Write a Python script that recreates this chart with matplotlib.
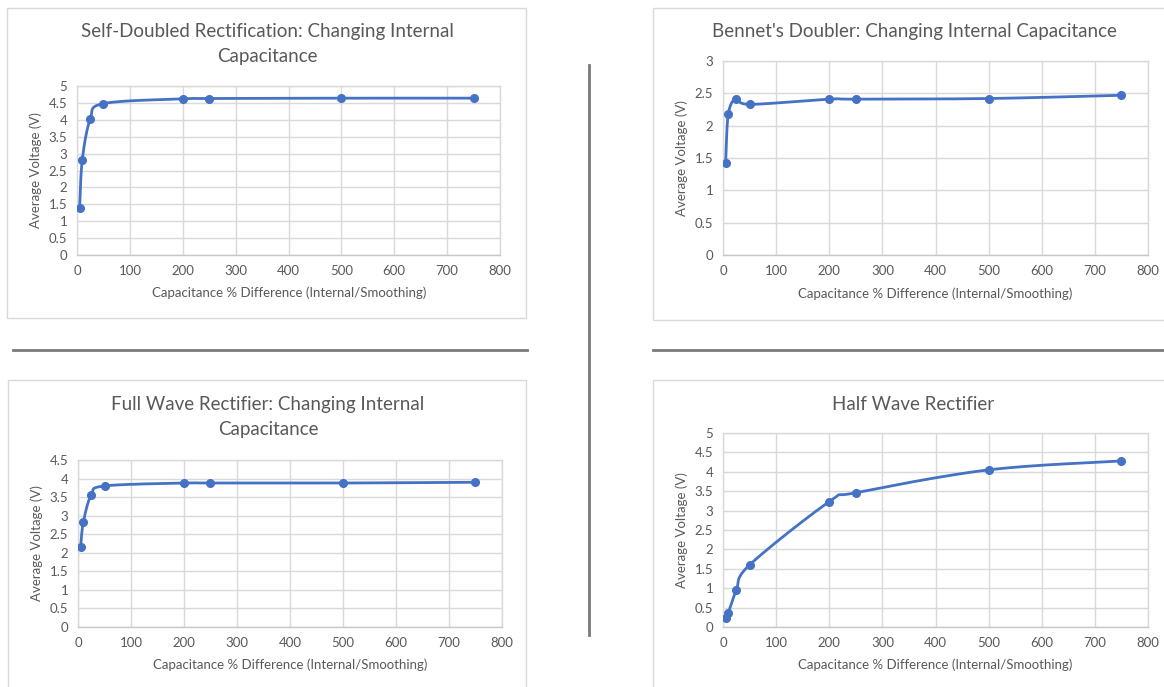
import numpy as np
import matplotlib
matplotlib.use("Agg")
import matplotlib.pyplot as plt
from matplotlib.patches import Rectangle
from matplotlib.lines import Line2D

plt.rcParams['font.family'] = ['Lato', 'DejaVu Sans']

# Capacitance % difference (internal / smoothing)
cap_diff = [5, 10, 25, 50, 200, 250, 500, 750]

# Average output voltage (V) for each circuit
self_doubled = [1.40, 2.82, 4.02, 4.48, 4.62, 4.63, 4.64, 4.64]
bennet = [1.43, 2.18, 2.42, 2.33, 2.41, 2.41, 2.42, 2.47]
full_wave = [2.16, 2.82, 3.56, 3.80, 3.88, 3.88, 3.88, 3.90]
half_wave = [0.23, 0.37, 0.95, 1.60, 3.23, 3.46, 4.05, 4.28]

titles = [
    "Self-Doubled Rectification: Changing Internal\nCapacitance",
    "Bennet's Doubler: Changing Internal Capacitance",
    "Full Wave Rectifier: Changing Internal\nCapacitance",
    "Half Wave Rectifier",
]
y_limits = [(0, 5), (0, 3), (0, 4.5), (0, 5)]
x_ticks = [0, 100, 200, 300, 400, 500, 600, 700, 800]
x_label = "Capacitance % Difference (Internal/Smoothing)"
y_label = "Average Voltage (V)"

W, H = 1164, 687
fig = plt.figure(figsize=(W / 100, H / 100), dpi=100)
fig.patch.set_facecolor("white")

BLUE = "#4472C4"
GRID = "#d9d9d9"
TEXT = "#595959"


def px_rect(left, top, right, bottom):
    return [left / W, 1 - bottom / H, (right - left) / W, (bottom - top) / H]


def smooth_curve(ax, xs, ys, n=30):
    """Catmull-Rom style bezier smoothing computed in screen space."""
    x0, x1 = ax.get_xlim()
    y0, y1 = ax.get_ylim()
    bb = ax.get_position()
    sx = bb.width * W / (x1 - x0)
    sy = bb.height * H / (y1 - y0)
    P = np.column_stack([np.asarray(xs, float) * sx, np.asarray(ys, float) * sy])
    out = []
    m = len(P)
    t = np.linspace(0, 1, n)[:, None]
    for i in range(m - 1):
        p0 = P[i - 1] if i > 0 else P[i]
        p1 = P[i]
        p2 = P[i + 1]
        p3 = P[i + 2] if i + 2 < m else P[i + 1]
        c1 = p1 + (p2 - p0) / 6.0
        c2 = p2 - (p3 - p1) / 6.0
        seg = ((1 - t) ** 3) * p1 + 3 * ((1 - t) ** 2) * t * c1 + 3 * (1 - t) * t ** 2 * c2 + t ** 3 * p2
        out.append(seg if i == 0 else seg[1:])
    out = np.vstack(out)
    return out[:, 0] / sx, out[:, 1] / sy


series = [self_doubled, bennet, full_wave, half_wave]
axes_px = [
    (77, 86, 500, 255),
    (723, 61, 1148, 255),
    (78, 460, 502, 627),
    (723, 433, 1148, 627),
]
title_pos = [(267, 44), (914, 32), (268, 417), (913, 404)]
xlabel_pos = [(289, 293), (935, 294), (290, 665), (935, 665)]
ylabel_pos = [(36, 170), (682, 158), (37, 543), (682, 530)]
boxes = [(7, 8, 526, 318), (653, 8, 1175, 320), (8, 380, 526, 700), (653, 380, 1175, 700)]

# chart frames
for (l, t, r, b) in boxes:
    fig.patches.append(Rectangle((l / W, 1 - b / H), (r - l) / W, (b - t) / H,
                                 transform=fig.transFigure, fill=False,
                                 edgecolor="#d9d9d9", lw=1.0, zorder=0))

for k in range(4):
    ax = fig.add_axes(px_rect(*axes_px[k]))
    ymin, ymax = y_limits[k]
    ax.set_xlim(0, 800)
    ax.set_ylim(ymin, ymax)
    ax.set_xticks(x_ticks)
    yt = np.arange(ymin, ymax + 0.001, 0.5)
    ax.set_yticks(yt)
    ax.set_yticklabels([f"{v:g}" for v in yt])
    ax.grid(True, color=GRID, lw=1.0)
    ax.set_axisbelow(True)
    for s in ax.spines.values():
        s.set_color(GRID)
        s.set_linewidth(1.0)
    ax.spines['bottom'].set_color("#c8c8c8")
    ax.tick_params(length=0, labelsize=9.5, labelcolor=TEXT, pad=7)

    ys = series[k]
    cx, cy = smooth_curve(ax, cap_diff, ys)
    ax.plot(cx, cy, color=BLUE, lw=2.0, solid_capstyle="round", zorder=3)
    ax.plot(cap_diff, ys, "o", color=BLUE, ms=5.5, zorder=4)

    tx, ty = title_pos[k]
    fig.text(tx / W, 1 - ty / H, titles[k], ha="center", va="center",
             fontsize=13.5, color=TEXT, linespacing=1.55)
    lx, ly = xlabel_pos[k]
    fig.text(lx / W, 1 - ly / H, x_label, ha="center", va="center",
             fontsize=9.5, color=TEXT)
    vx, vy = ylabel_pos[k]
    fig.text(vx / W, 1 - vy / H, y_label, ha="center", va="center",
             fontsize=9.5, color=TEXT, rotation=90)

# dividing lines between the four charts
sep = dict(color="#7a7a7a", lw=2.0, transform=fig.transFigure)
fig.add_artist(Line2D([13 / W, 527 / W], [1 - 350 / H, 1 - 350 / H], **sep))
fig.add_artist(Line2D([653 / W, 1164 / W], [1 - 350 / H, 1 - 350 / H], **sep))
fig.add_artist(Line2D([589 / W, 589 / W], [1 - 65 / H, 1 - 635 / H], **sep))

fig.savefig("out.png", dpi=100, facecolor="white")
